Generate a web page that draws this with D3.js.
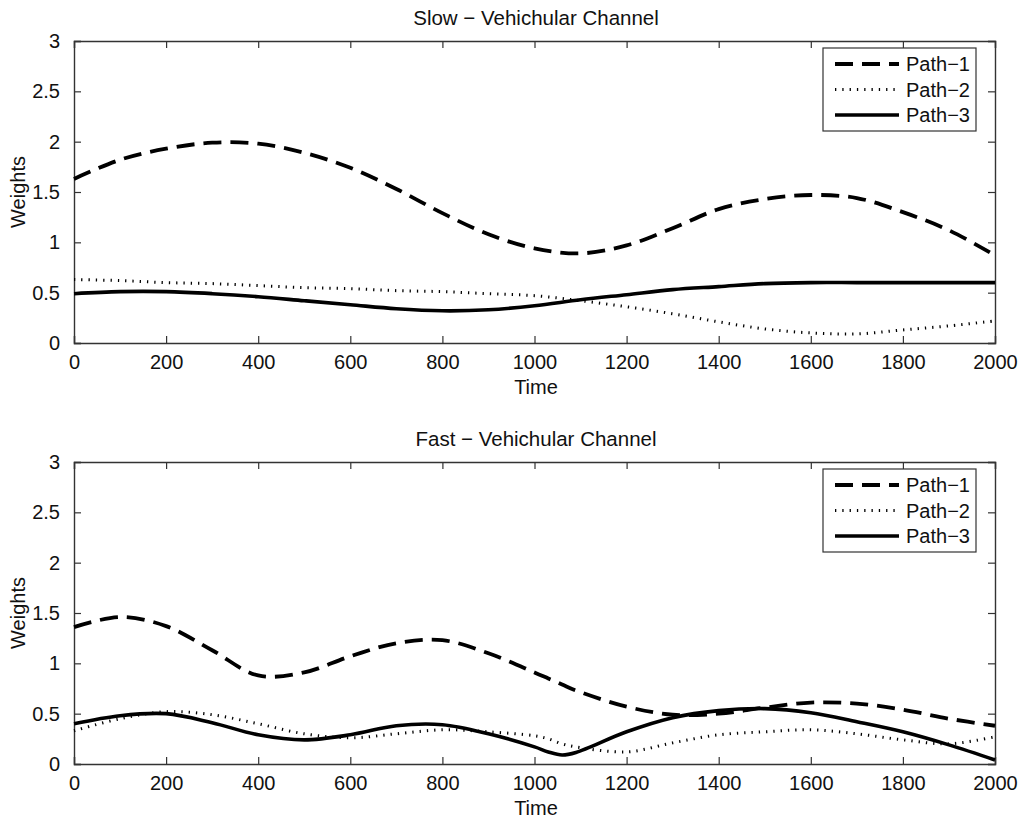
<!DOCTYPE html>
<html>
<head>
<meta charset="utf-8">
<script src="https://cdn.jsdelivr.net/npm/d3@7"></script>
<style>
  html, body { margin: 0; padding: 0; background: #fff; }
  svg { display: block; }
  text { font-family: "Liberation Sans", Arial, Helvetica, sans-serif; fill: #111; }
</style>
</head>
<body>
<svg id="chart" width="1025" height="820"></svg>
<script>
// Sample times for the slow channel
const slowTime = [0, 100, 200, 300, 400, 500, 600, 700, 800, 900, 1000,
                  1100, 1200, 1300, 1400, 1500, 1600, 1700, 1800, 1900, 2000];

// Slow vehicular channel: tap weights per path
const slowPath1 = [1.63, 1.82, 1.93, 1.99, 1.98, 1.89, 1.74, 1.53, 1.29, 1.08, 0.94,
                   0.89, 0.97, 1.14, 1.33, 1.43, 1.47, 1.44, 1.30, 1.12, 0.87];
const slowPath2 = [0.63, 0.62, 0.60, 0.59, 0.57, 0.55, 0.54, 0.52, 0.51, 0.49, 0.47,
                   0.42, 0.36, 0.29, 0.21, 0.14, 0.10, 0.09, 0.13, 0.17, 0.22];
const slowPath3 = [0.49, 0.51, 0.51, 0.49, 0.46, 0.42, 0.38, 0.34, 0.32, 0.33, 0.37,
                   0.43, 0.48, 0.53, 0.56, 0.59, 0.60, 0.60, 0.60, 0.60, 0.60];

// Sample times for the fast channel (denser around the sharp dip near 1060)
const fastTime = [0, 100, 200, 300, 400, 500, 600, 700, 800, 900, 1000, 1030, 1060, 1090,
                  1200, 1300, 1400, 1500, 1600, 1700, 1800, 1900, 2000];

// Fast vehicular channel: tap weights per path
const fastPath1 = [1.36, 1.46, 1.37, 1.13, 0.88, 0.91, 1.07, 1.20, 1.23, 1.10, 0.91, 0.85, 0.79, 0.73,
                   0.57, 0.49, 0.50, 0.56, 0.61, 0.60, 0.54, 0.45, 0.38];
const fastPath2 = [0.33, 0.45, 0.52, 0.49, 0.40, 0.30, 0.26, 0.30, 0.34, 0.32, 0.28, 0.25, 0.20, 0.17,
                   0.12, 0.21, 0.29, 0.32, 0.34, 0.30, 0.24, 0.20, 0.27];
const fastPath3 = [0.40, 0.48, 0.50, 0.41, 0.29, 0.24, 0.29, 0.38, 0.39, 0.30, 0.17, 0.12, 0.09, 0.115,
                   0.32, 0.46, 0.53, 0.55, 0.51, 0.42, 0.32, 0.19, 0.04];

const xTicks = [0, 200, 400, 600, 800, 1000, 1200, 1400, 1600, 1800, 2000];
const yTicks = [0, 0.5, 1, 1.5, 2, 2.5, 3];
const seriesNames = ["Path\u22121", "Path\u22122", "Path\u22123"];
const panelTitles = ["Slow \u2212 Vehichular Channel", "Fast \u2212 Vehichular Channel"];

const panels = [
  { title: panelTitles[0], top: 41,  time: slowTime, series: [slowPath1, slowPath2, slowPath3] },
  { title: panelTitles[1], top: 462, time: fastTime, series: [fastPath1, fastPath2, fastPath3] }
];

// Line styles for the three paths: dashed, dotted, solid
const styles = [
  { width: 3.8, dash: "18,9" },
  { width: 3, dash: "1.3,6" },
  { width: 3.6, dash: null }
];

const svg = d3.select("#chart");
const left = 74, right = 995, plotH = 302, tickLen = 7;
const fs = 20;

const x = d3.scaleLinear().domain([0, 2000]).range([left, right]);

panels.forEach(p => {
  const y = d3.scaleLinear().domain([0, 3]).range([p.top + plotH, p.top]);
  const g = svg.append("g");

  // Axes with inward ticks on all four sides
  g.append("g").attr("transform", `translate(0,${p.top + plotH})`)
    .call(d3.axisBottom(x).tickValues(xTicks).tickSize(-tickLen).tickPadding(tickLen + 5).tickFormat(d3.format("d")))
    .call(a => a.selectAll("text").style("font-size", fs + "px").attr("fill", "#111"));
  g.append("g").attr("transform", `translate(0,${p.top})`)
    .call(d3.axisTop(x).tickValues(xTicks).tickSize(-tickLen).tickFormat(""));
  g.append("g").attr("transform", `translate(${left},0)`)
    .call(d3.axisLeft(y).tickValues(yTicks).tickSize(-tickLen).tickPadding(tickLen + 7).tickFormat(d => d3.format("")(d)))
    .call(a => a.selectAll("text").style("font-size", fs + "px").attr("fill", "#111"));
  g.append("g").attr("transform", `translate(${right},0)`)
    .call(d3.axisRight(y).tickValues(yTicks).tickSize(-tickLen).tickFormat(""));
  g.selectAll(".tick line").attr("stroke", "#333").attr("stroke-width", 1.2);
  g.selectAll("path.domain").attr("stroke", "#333").attr("stroke-width", 1.4);

  // Curves
  const line = d3.line().x((d, i) => x(p.time[i])).y(d => y(d)).curve(d3.curveCatmullRom.alpha(0.5));
  p.series.forEach((vals, k) => {
    g.append("path")
      .attr("d", line(vals))
      .attr("fill", "none")
      .attr("stroke", "#000")
      .attr("stroke-width", styles[k].width)
      .attr("stroke-dasharray", styles[k].dash)
      .attr("stroke-linecap", "butt");
  });

  // Title and axis labels
  g.append("text").attr("x", 536).attr("y", p.top - 16)
    .attr("text-anchor", "middle").style("font-size", "20.5px").text(p.title);
  g.append("text").attr("x", 536).attr("y", p.top + plotH + 51)
    .attr("text-anchor", "middle").style("font-size", fs + "px").text("Time");
  g.append("text").attr("transform", `translate(25,${p.top + plotH / 2}) rotate(-90)`)
    .attr("text-anchor", "middle").style("font-size", fs + "px").text("Weights");

  // Legend
  const lx = 823, ly = p.top + 7, lw = 153, lh = 83;
  const lg = g.append("g");
  lg.append("rect").attr("x", lx).attr("y", ly).attr("width", lw).attr("height", lh)
    .attr("fill", "#fff").attr("stroke", "#333").attr("stroke-width", 1.2);
  seriesNames.forEach((name, k) => {
    const yy = ly + 16 + k * 25.5;
    lg.append("line").attr("x1", lx + 12).attr("x2", lx + 76).attr("y1", yy).attr("y2", yy)
      .attr("stroke", "#000").attr("stroke-width", styles[k].width)
      .attr("stroke-dasharray", styles[k].dash);
    lg.append("text").attr("x", lx + 83).attr("y", yy + 7)
      .style("font-size", fs + "px").text(name);
  });
});
</script>
</body>
</html>
